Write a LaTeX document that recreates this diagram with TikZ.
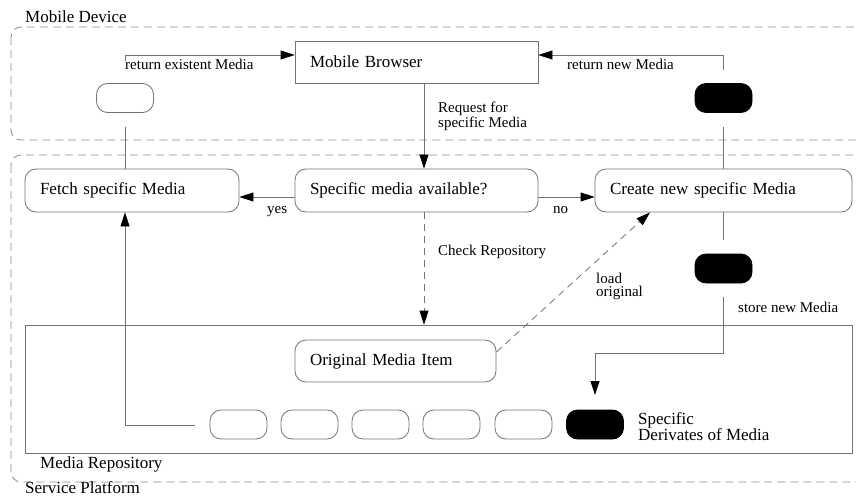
\documentclass[tikz,border=0pt]{standalone}
\usepackage{fontspec}
\setmainfont{Liberation Serif}
\usetikzlibrary{arrows.meta}
\tikzset{
  wire/.style={draw=black!55, line width=0.8pt},
  arrowed/.style={wire, -{Triangle[length=14pt,width=9pt,color=black]}},
  dashwire/.style={wire, dash pattern=on 7pt off 5pt},
  dasharrow/.style={arrowed, dash pattern=on 7pt off 5pt},
  frame/.style={draw=black!45, line width=0.8pt, dash pattern=on 8pt off 5pt, rounded corners=10pt},
  box/.style={draw=black!55, line width=0.8pt, minimum height=42pt, inner xsep=15pt, inner ysep=0pt,
    align=left, font=\fontsize{17}{20}\selectfont},
  roundbox/.style={box, rounded corners=11pt},
  pill/.style={draw=black!55, line width=0.8pt, minimum width=57pt, minimum height=29pt, inner sep=0pt, rounded corners=11pt},
  blackpill/.style={pill, draw=black, fill=black},
  big/.style={font=\fontsize{17}{20}\selectfont, inner sep=0pt, anchor=base west},
  small/.style={font=\fontsize{15}{18}\selectfont, inner sep=0pt, anchor=base west},
  smalltwo/.style={font=\fontsize{15}{13.5}\selectfont, inner sep=0pt, anchor=west, align=left},
  bigtwo/.style={font=\fontsize{17}{14}\selectfont, inner sep=0pt, anchor=west, align=left},
}
\begin{document}
\begin{tikzpicture}[x=1pt,y=-1pt]
\useasboundingbox (0,0) rectangle (856,497);

% dashed frames of the two platforms
\draw[frame] (11,27) rectangle (890,140);
\draw[frame] (11,155) rectangle (890,482);
\node[big] (devlabel) at (25,23) {Mobile Device};
\node[big] (splabel) at (25,493) {Service Platform};

% media repository
\node[wire, minimum width=827pt, minimum height=128pt, inner sep=0pt] (repo) at (438.5,389) {};
\node[big] (repolabel) at (40,468) {Media Repository};

% activity nodes
\node[box, text width=213pt] (browser) at (416.5,62) {Mobile Browser};
\node[roundbox, text width=184pt, minimum height=43pt] (fetch) at (132,190.5) {Fetch specific Media};
\node[roundbox, text width=213pt, minimum height=43pt] (avail) at (416.5,190.5) {Specific media available?};
\node[roundbox, text width=227pt, minimum height=43pt] (create) at (723.5,190.5) {Create new specific Media};
\node[roundbox, text width=171pt] (orig) at (395.5,361) {Original Media Item};

% media objects
\node[pill] (oldm) at (125,98) {};
\node[blackpill] (newm) at (723.5,98) {};
\node[blackpill] (storem) at (723.5,268.5) {};
\node[pill] (d1) at (238.5,424.5) {};
\node[pill] (d2) at (309.5,424.5) {};
\node[pill] (d3) at (380.5,424.5) {};
\node[pill] (d4) at (451.5,424.5) {};
\node[pill] (d5) at (523.5,424.5) {};
\node[blackpill] (d6) at (595,424.5) {};
\node[bigtwo] (deriv) at (638,426.5) {Specific\\Derivates of Media};

% connector end points
\coordinate (exstub) at (125,61);
\coordinate (newstub) at (723.5,70);
\coordinate (oldlow) at (125,127);
\coordinate (newlow) at (723.5,127);
\coordinate (crlow) at (723.5,240);
\coordinate (stlow) at (723.5,297);
\coordinate (stbend) at (723.5,353);
\coordinate (sttip) at (595,395);
\coordinate (fetchback) at (195,425);

% flows in the mobile device
\draw[arrowed] (exstub) |- ([yshift=7pt]browser.west);
\draw[arrowed] (newstub) |- ([yshift=7pt]browser.east);
\node[small] (exlabel) at (125,70) {return existent Media};
\node[small] (newlabel) at (567,70) {return new Media};
\draw[wire] (oldlow) -- (oldlow |- fetch.north);
\draw[wire] (newlow) -- (newlow |- create.north);

% request and decision
\draw[arrowed] ([xshift=7.5pt]browser.south) -- ([xshift=7.5pt]avail.north);
\node[smalltwo] (req) at (438,116) {Request for\\specific Media};
\draw[arrowed] ([yshift=-6.5pt]avail.west) -- ([yshift=-6.5pt]fetch.east);
\node[small] (yes) at (267,213) {yes};
\draw[arrowed] ([yshift=-6.5pt]avail.east) -- ([yshift=-6.5pt]create.west);
\node[small] (no) at (553,213) {no};
\draw[dasharrow] ([xshift=7.5pt]avail.south) -- ([xshift=7.5pt]avail.south |- repo.north);
\node[small] (check) at (438,255) {Check Repository};

% creation of a new derivate
\draw[dasharrow] ([yshift=9pt]orig.east) -- ([xshift=-73.5pt]create.south);
\node[smalltwo] (load) at (596,286.5) {load\\original};
\draw[wire] (create.south) -- (crlow);
\draw[arrowed] (stlow) -- (stbend) -| (sttip);
\node[small] (store) at (738,312) {store new Media};

% fetching an existing derivate
\draw[arrowed] (fetchback) -| ([xshift=-7pt]fetch.south);
\end{tikzpicture}
\end{document}
